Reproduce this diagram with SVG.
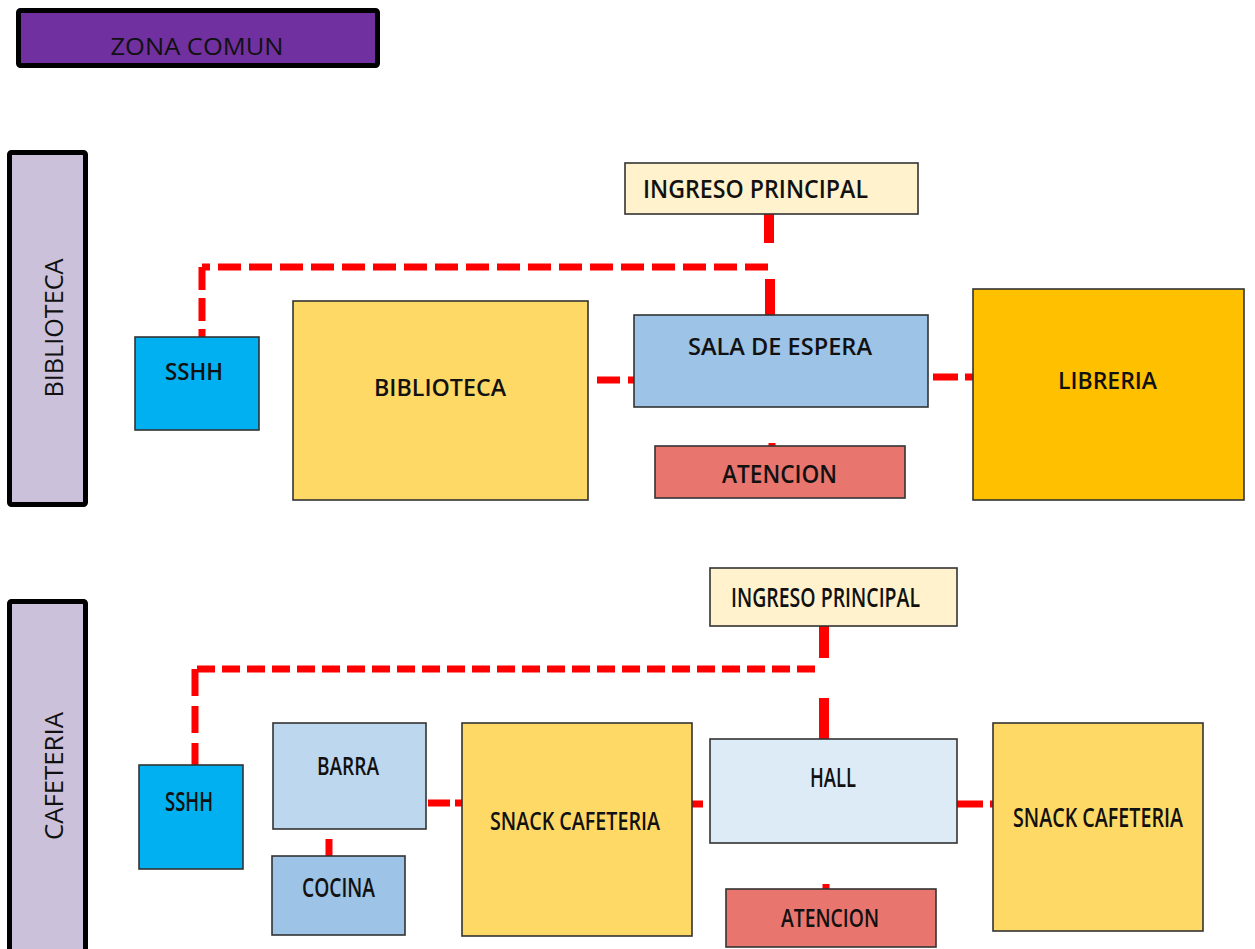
<svg xmlns="http://www.w3.org/2000/svg" width="1255" height="949" viewBox="0 0 1255 949">
<style>
.n{stroke:#333;stroke-width:1.6}
.bar{stroke:#000;stroke-width:5}
.t{font-family:"Open Sans","Liberation Sans",sans-serif;font-weight:600;fill:#111;text-anchor:middle}
.r{font-family:"Open Sans","Liberation Sans",sans-serif;font-weight:400;fill:#111;text-anchor:middle}
.d{fill:none;stroke:#FF0000;stroke-width:7}
.s{fill:none;stroke:#FF0000;stroke-width:10}
</style>
<rect width="1255" height="949" fill="#fff"/>
<g id="zona-comun"><rect class="bar" x="18.5" y="10.5" width="359" height="55" rx="2" fill="#7030A0"/><text class="r" x="197" y="55" font-size="24" textLength="173" lengthAdjust="spacingAndGlyphs">ZONA COMUN</text></g>
<g id="lbl-biblioteca"><rect class="bar" x="9.5" y="152.5" width="76" height="352" rx="2" fill="#CCC1DA"/><text class="r" transform="translate(63,328) rotate(-90)" font-size="25" textLength="139" lengthAdjust="spacingAndGlyphs">BIBLIOTECA</text></g>
<g id="lbl-cafeteria"><rect class="bar" x="9.5" y="601.5" width="76" height="362" rx="2" fill="#CCC1DA"/><text class="r" transform="translate(63,776) rotate(-90)" font-size="25" textLength="128" lengthAdjust="spacingAndGlyphs">CAFETERIA</text></g>
<g id="connectors">
<path class="d" d="M768,267 H202"  stroke-dasharray="23 8"/>
<path class="d" d="M202,267 V337" stroke-dasharray="23 8"/>
<line class="s" x1="769" y1="214" x2="769" y2="243"/>
<line class="s" x1="770" y1="279" x2="770" y2="315"/>
<path class="d" d="M597,380 H634" stroke-width="8" stroke-dasharray="23 8"/>
<path class="d" d="M933,377 H973" stroke-width="8" stroke-dasharray="25 7"/>
<line class="d" x1="772" y1="443" x2="772" y2="447" stroke-width="8"/>
<path class="d" d="M197,669 H821" stroke-width="8" stroke-dasharray="18 7"/>
<path class="d" d="M195,669 V765" stroke-dasharray="27 10"/>
<line class="s" x1="824" y1="626" x2="824" y2="658" stroke-width="9"/>
<line class="s" x1="824" y1="698" x2="824" y2="739" stroke-width="9"/>
<path class="d" d="M428,803 H462" stroke-width="8" stroke-dasharray="22 5"/>
<path class="d" d="M692,804 H703" stroke-width="8"/>
<path class="d" d="M957,804 H993" stroke-width="8" stroke-dasharray="26 7"/>
<line class="d" x1="826" y1="884" x2="826" y2="889" stroke-width="8"/>
<line class="d" x1="329" y1="839" x2="329" y2="856"/>
</g>
<g id="sshh-1"><rect class="n" x="135" y="337" width="124" height="93" fill="#00B0F0"/><text class="t" x="194" y="380" font-size="23" textLength="58" lengthAdjust="spacingAndGlyphs">SSHH</text></g>
<g id="biblioteca"><rect class="n" x="293" y="301" width="295" height="199" fill="#FFD966"/><text class="t" x="440" y="396" font-size="23" textLength="132" lengthAdjust="spacingAndGlyphs">BIBLIOTECA</text></g>
<g id="ingreso-1"><rect class="n" x="625" y="163" width="293" height="51" fill="#FFF2CC"/><text class="t" x="755.5" y="198" font-size="25" textLength="225" lengthAdjust="spacingAndGlyphs">INGRESO PRINCIPAL</text></g>
<g id="sala-espera"><rect class="n" x="634" y="315" width="294" height="92" fill="#9DC3E6"/><text class="t" x="780" y="355" font-size="24" textLength="184" lengthAdjust="spacingAndGlyphs">SALA DE ESPERA</text></g>
<g id="atencion-1"><rect class="n" x="655" y="446" width="250" height="52" fill="#E8766F"/><text class="t" x="779.5" y="483" font-size="25" textLength="115" lengthAdjust="spacingAndGlyphs">ATENCION</text></g>
<g id="libreria"><rect class="n" x="973" y="289" width="271" height="211" fill="#FFC000"/><text class="t" x="1107.5" y="389" font-size="24" textLength="99" lengthAdjust="spacingAndGlyphs">LIBRERIA</text></g>
<g id="sshh-2"><rect class="n" x="139" y="765" width="104" height="104" fill="#00B0F0"/><text class="t" x="189" y="811" font-size="27" textLength="48" lengthAdjust="spacingAndGlyphs">SSHH</text></g>
<g id="barra"><rect class="n" x="273" y="723" width="153" height="106" fill="#BDD7EE"/><text class="t" x="348" y="775" font-size="26" textLength="62" lengthAdjust="spacingAndGlyphs">BARRA</text></g>
<g id="cocina"><rect class="n" x="272" y="856" width="133" height="79" fill="#9DC3E6"/><text class="t" x="338.5" y="897" font-size="27" textLength="73" lengthAdjust="spacingAndGlyphs">COCINA</text></g>
<g id="snack-1"><rect class="n" x="462" y="723" width="230" height="213" fill="#FFD966"/><text class="t" x="575" y="830" font-size="26" textLength="170" lengthAdjust="spacingAndGlyphs">SNACK CAFETERIA</text></g>
<g id="ingreso-2"><rect class="n" x="710" y="568" width="247" height="58" fill="#FFF2CC"/><text class="t" x="825.5" y="607" font-size="27" textLength="189" lengthAdjust="spacingAndGlyphs">INGRESO PRINCIPAL</text></g>
<g id="hall"><rect class="n" x="710" y="739" width="247" height="104" fill="#DDEBF7"/><text class="t" x="833" y="787" font-size="27" textLength="46" lengthAdjust="spacingAndGlyphs">HALL</text></g>
<g id="atencion-2"><rect class="n" x="726" y="889" width="210" height="58" fill="#E8766F"/><text class="t" x="830" y="927" font-size="26" textLength="98" lengthAdjust="spacingAndGlyphs">ATENCION</text></g>
<g id="snack-2"><rect class="n" x="993" y="723" width="210" height="208" fill="#FFD966"/><text class="t" x="1098" y="827" font-size="27" textLength="170" lengthAdjust="spacingAndGlyphs">SNACK CAFETERIA</text></g>
</svg>
